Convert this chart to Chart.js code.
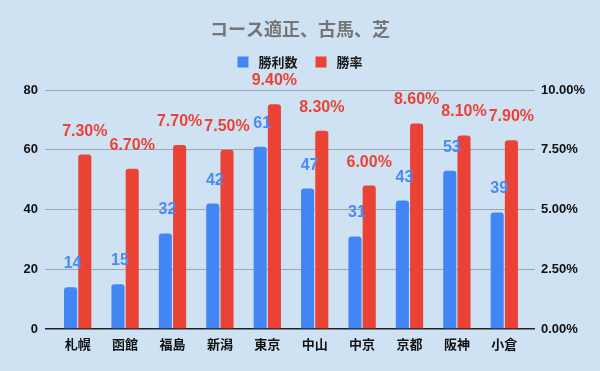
<!DOCTYPE html>
<html>
<head>
<meta charset="utf-8">
<script src="https://cdn.jsdelivr.net/npm/chart.js@4"></script>
<style>
  html, body { margin: 0; padding: 0; background: #cfe2f3; }
  #wrap { width: 600px; height: 371px; }
</style>
</head>
<body>
<div id="wrap"><canvas id="chart" width="600" height="371"></canvas></div>
<script>
// данные
const courses = ['札幌', '函館', '福島', '新潟', '東京', '中山', '中京', '京都', '阪神', '小倉'];
const wins = [14, 15, 32, 42, 61, 47, 31, 43, 53, 39];
const winRates = [0.073, 0.067, 0.077, 0.075, 0.094, 0.083, 0.060, 0.086, 0.081, 0.079];

const FONT = '"Liberation Sans", "Noto Sans CJK JP", sans-serif';
const BLUE = '#4285f4';
const RED = '#ea4335';
const GRID = '#9aa6b2';

// подписи над столбцами: рисуются сразу после своего набора,
// поэтому красные столбцы перекрывают синие подписи
const barLabels = {
    id: 'barLabels',
    afterDatasetDraw(chart, args) {
        const i = args.index;
        const ds = chart.data.datasets[i];
        const ctx = chart.ctx;
        ctx.save();
        ctx.font = 'bold 16px ' + FONT;
        ctx.textAlign = 'center';
        ctx.textBaseline = 'alphabetic';
        ctx.fillStyle = ds.labelColor;
        args.meta.data.forEach((bar, j) => {
            const v = ds.data[j];
            const text = i === 0 ? String(v) : (v * 100).toFixed(2) + '%';
            ctx.fillText(text, bar.x + (i === 0 ? 2 : 0), bar.y - 19);
        });
        ctx.restore();
    }
};

// легенда вручную, чтобы точно выставить отступы
const topLegend = {
    id: 'topLegend',
    afterDraw(chart) {
        const ctx = chart.ctx;
        const box = 11, gap = 10, itemGap = 18, y = 62;
        ctx.save();
        ctx.font = 'bold 13px ' + FONT;
        ctx.textBaseline = 'middle';
        const items = chart.data.datasets.map(ds => ({
            text: ds.label,
            color: ds.backgroundColor,
            w: ctx.measureText(ds.label).width
        }));
        let total = 0;
        items.forEach((it, i) => { total += box + gap + it.w + (i ? itemGap : 0); });
        let x = chart.width / 2 - total / 2;
        items.forEach(it => {
            ctx.fillStyle = it.color;
            ctx.fillRect(x, y - box / 2, box, box);
            ctx.fillStyle = '#1a1a1a';
            ctx.fillText(it.text, x + box + gap, y + 1);
            x += box + gap + it.w + itemGap;
        });
        ctx.restore();
    }
};

new Chart(document.getElementById('chart'), {
    type: 'bar',
    data: {
        labels: courses,
        datasets: [{
            label: '勝利数',
            data: wins,
            backgroundColor: BLUE,
            labelColor: '#4a8af4',
            yAxisID: 'y',
            borderRadius: 3,
            categoryPercentage: 0.6,
            barPercentage: 0.92
        }, {
            label: '勝率',
            data: winRates,
            backgroundColor: RED,
            labelColor: '#ea4335',
            yAxisID: 'y1',
            borderRadius: 3,
            categoryPercentage: 0.6,
            barPercentage: 0.92
        }]
    },
    options: {
        responsive: false,
        animation: false,
        layout: { padding: 0 },
        plugins: {
            title: {
                display: true,
                text: 'コース適正、古馬、芝',
                color: '#757575',
                font: { family: FONT, size: 18, weight: 'bold' },
                padding: { top: 20, bottom: 48.4 }
            },
            legend: { display: false },
            tooltip: { enabled: false }
        },
        scales: {
            x: {
                grid: { display: false, drawTicks: false },
                border: { display: false },
                ticks: {
                    color: '#111',
                    font: { family: FONT, size: 13, weight: 'bold' },
                    padding: 9
                },
                afterFit(scale) { scale.height = 42; }
            },
            y: {
                position: 'left',
                min: 0,
                max: 80,
                ticks: {
                    stepSize: 20,
                    color: '#111',
                    font: { family: FONT, size: 13, weight: 'bold' },
                    padding: 7
                },
                grid: {
                    color: c => c.tick && c.tick.value === 0 ? '#222' : GRID,
                    lineWidth: c => c.tick && c.tick.value === 0 ? 1.5 : 1,
                    tickLength: 9
                },
                border: { display: false },
                afterFit(scale) { scale.width = 54; }
            },
            y1: {
                position: 'right',
                min: 0,
                max: 0.1,
                ticks: {
                    stepSize: 0.025,
                    color: '#111',
                    font: { family: FONT, size: 13, weight: 'bold' },
                    padding: 6,
                    callback: v => (v * 100).toFixed(2) + '%'
                },
                grid: {
                    drawOnChartArea: false,
                    color: c => c.tick && c.tick.value === 0 ? '#222' : GRID,
                    lineWidth: c => c.tick && c.tick.value === 0 ? 1.5 : 1,
                    tickLength: 7
                },
                border: { display: false },
                afterFit(scale) { scale.width = 72; }
            }
        }
    },
    plugins: [barLabels, topLegend]
});
</script>
</body>
</html>
